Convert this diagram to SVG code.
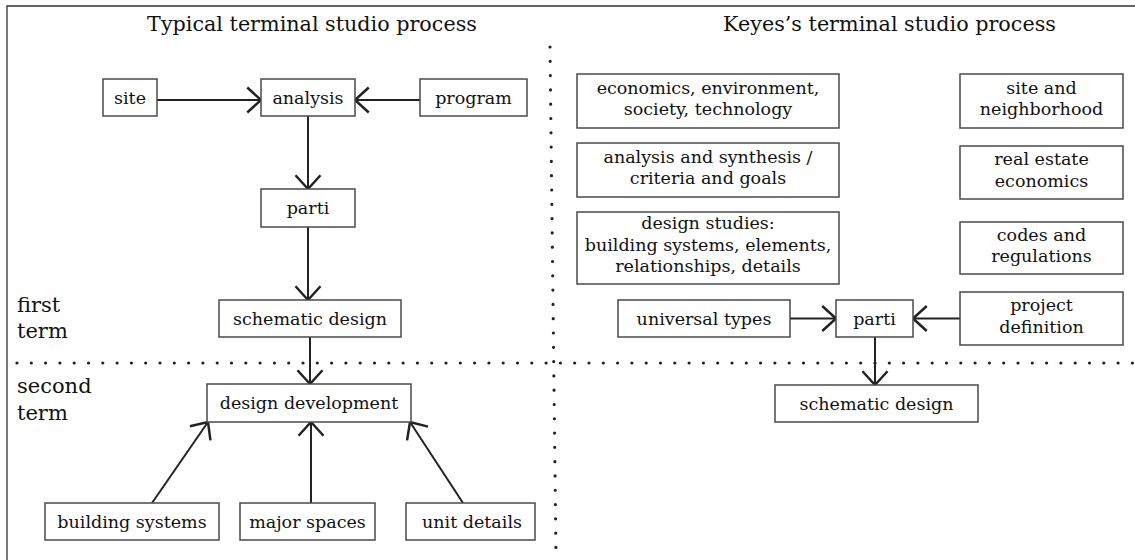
<svg xmlns="http://www.w3.org/2000/svg" width="1135" height="560" viewBox="0 0 1135 560">
<style>
.box{fill:#fff;stroke:#4a4a4a;stroke-width:1.5}
.t{font-family:"DejaVu Serif","Liberation Serif",serif;font-size:17.5px;fill:#111;text-anchor:middle}
.title{font-family:"DejaVu Serif","Liberation Serif",serif;font-size:20.7px;fill:#111;text-anchor:middle}
.lbl{font-family:"DejaVu Serif","Liberation Serif",serif;font-size:21px;fill:#111}
.ln{fill:none;stroke:#222;stroke-width:2;marker-end:url(#v)}
.dots{fill:none;stroke:#222;stroke-width:3.2;stroke-linecap:round;stroke-dasharray:0 14.3}
</style>
<defs>
<marker id="v" markerUnits="userSpaceOnUse" markerWidth="30" markerHeight="30" viewBox="-14 -12 16 24" refX="0" refY="0" orient="auto">
<path d="M-11,-10 L0,0 L-11,10" fill="none" stroke="#222" stroke-width="2"/>
</marker>
</defs>
<rect width="1135" height="560" fill="#fff"/>
<path d="M7,560 V6 H1135" fill="none" stroke="#333" stroke-width="1.3"/>
<g id="dividers">
<line class="dots" x1="17" y1="363" x2="1135" y2="363"/>
<line class="dots" x1="550" y1="47" x2="556" y2="556"/>
</g>
<g id="titles">
<text class="title" x="312" y="31">Typical terminal studio process</text>
<text class="title" x="889.5" y="31">Keyes’s terminal studio process</text>
<text class="lbl" x="17" y="312">first</text>
<text class="lbl" x="17" y="338">term</text>
<text class="lbl" x="17" y="393">second</text>
<text class="lbl" x="17" y="420">term</text>
</g>
<g id="connectors">
<line class="ln" x1="157" y1="100" x2="261" y2="100"/>
<line class="ln" x1="420" y1="100" x2="355" y2="100"/>
<line class="ln" x1="308" y1="116" x2="308" y2="189"/>
<line class="ln" x1="308" y1="227" x2="308" y2="300"/>
<line class="ln" x1="310" y1="337" x2="310" y2="384"/>
<line class="ln" x1="152" y1="503" x2="208" y2="422"/>
<line class="ln" x1="311" y1="503" x2="311" y2="422"/>
<line class="ln" x1="463" y1="503" x2="410" y2="422"/>
<line class="ln" x1="790" y1="318.5" x2="836" y2="318.5"/>
<line class="ln" x1="960" y1="318.5" x2="913" y2="318.5"/>
<line class="ln" x1="875" y1="337" x2="875" y2="385"/>
</g>
<g id="n-site"><rect class="box" x="103" y="79" width="54" height="37"/><text class="t" x="130" y="104">site</text></g>
<g id="n-analysis"><rect class="box" x="261" y="79" width="94" height="37"/><text class="t" x="308" y="104">analysis</text></g>
<g id="n-program"><rect class="box" x="420" y="79" width="107" height="37"/><text class="t" x="473.5" y="104">program</text></g>
<g id="n-parti-l"><rect class="box" x="261" y="189" width="94" height="38"/><text class="t" x="308" y="214">parti</text></g>
<g id="n-schematic-l"><rect class="box" x="219" y="300" width="182" height="37"/><text class="t" x="310" y="325">schematic design</text></g>
<g id="n-designdev"><rect class="box" x="207" y="384" width="204" height="38"/><text class="t" x="309" y="409">design development</text></g>
<g id="n-bsys"><rect class="box" x="45" y="503" width="174" height="37"/><text class="t" x="132" y="528">building systems</text></g>
<g id="n-major"><rect class="box" x="240" y="503" width="135" height="37"/><text class="t" x="307.5" y="528">major spaces</text></g>
<g id="n-unit"><rect class="box" x="406" y="503" width="129" height="37"/><text class="t" x="472" y="528">unit details</text></g>
<g id="n-econ"><rect class="box" x="577" y="74" width="262" height="54"/><text class="t" x="708" y="93.5">economics, environment,</text><text class="t" x="708" y="115">society, technology</text></g>
<g id="n-anasyn"><rect class="box" x="577" y="143" width="262" height="54"/><text class="t" x="708" y="162.5">analysis and synthesis /</text><text class="t" x="708" y="184">criteria and goals</text></g>
<g id="n-studies"><rect class="box" x="577" y="212" width="262" height="72"/><text class="t" x="708" y="229">design studies:</text><text class="t" x="708" y="250.5">building systems, elements,</text><text class="t" x="708" y="272">relationships, details</text></g>
<g id="n-sitenb"><rect class="box" x="960" y="74" width="163" height="54"/><text class="t" x="1041.5" y="93.5">site and</text><text class="t" x="1041.5" y="115">neighborhood</text></g>
<g id="n-realestate"><rect class="box" x="960" y="146" width="163" height="53"/><text class="t" x="1041.5" y="165">real estate</text><text class="t" x="1041.5" y="186.5">economics</text></g>
<g id="n-codes"><rect class="box" x="960" y="222" width="163" height="52"/><text class="t" x="1041.5" y="240.5">codes and</text><text class="t" x="1041.5" y="262">regulations</text></g>
<g id="n-universal"><rect class="box" x="618" y="300" width="172" height="37"/><text class="t" x="704" y="325">universal types</text></g>
<g id="n-parti-r"><rect class="box" x="836" y="300" width="77" height="37"/><text class="t" x="874.5" y="325">parti</text></g>
<g id="n-projdef"><rect class="box" x="960" y="292" width="163" height="53"/><text class="t" x="1041.5" y="311">project</text><text class="t" x="1041.5" y="332.5">definition</text></g>
<g id="n-schematic-r"><rect class="box" x="775" y="385" width="203" height="37"/><text class="t" x="876.5" y="410">schematic design</text></g>
</svg>
